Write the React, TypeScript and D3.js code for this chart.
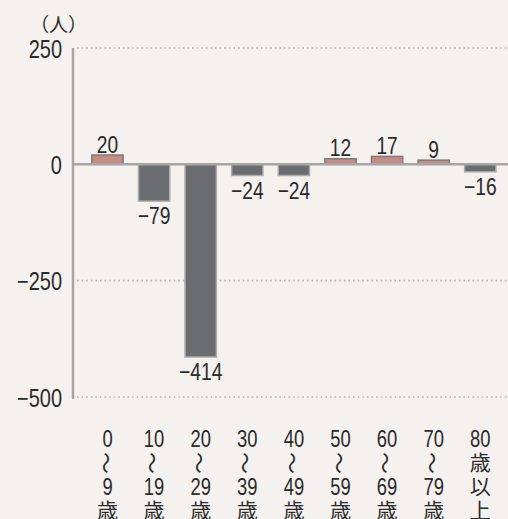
import React from "react";
import * as d3 from "d3";

const categories = ["0-9", "10-19", "20-29", "30-39", "40-49", "50-59", "60-69", "70-79", "80+"];
const values = [20, -79, -414, -24, -24, 12, 17, 9, -16];
const categoryLines: string[][] = [
  ["0", "〜", "9", "歳"],
  ["10", "〜", "19", "歳"],
  ["20", "〜", "29", "歳"],
  ["30", "〜", "39", "歳"],
  ["40", "〜", "49", "歳"],
  ["50", "〜", "59", "歳"],
  ["60", "〜", "69", "歳"],
  ["70", "〜", "79", "歳"],
  ["80", "歳", "以", "上"],
];
const yTicks = [250, 0, -250, -500];
const unitLabel = "（人）";

const W = 508;
const H = 519;
const NUM_FONT = "'Liberation Sans', Arial, sans-serif";
const CJK_FONT = "'Noto Sans CJK JP', sans-serif";
const TEXT = "#2b2b2b";
const SQUEEZE = 0.8;

function Num({
  x,
  y,
  size,
  anchor,
  children,
}: {
  x: number;
  y: number;
  size: number;
  anchor: "start" | "middle" | "end";
  children: React.ReactNode;
}) {
  return (
    <text
      transform={`translate(${x},${y}) scale(${SQUEEZE},1)`}
      textAnchor={anchor}
      fontFamily={NUM_FONT}
      fontSize={size}
      fill={TEXT}
    >
      {children}
    </text>
  );
}

export default function App() {
  const x = d3
    .scaleBand<string>()
    .domain(categories)
    .range([84.2, 503.6])
    .paddingInner(0.33)
    .paddingOuter(0.165);
  const y = d3.scaleLinear().domain([-500, 250]).range([397, 48]);
  const axisX = 73;

  return (
    <div style={{ position: "fixed", left: 0, top: 0, width: W, height: H }}>
      <svg width={W} height={H} style={{ display: "block" }}>
        <rect x={0} y={0} width={W} height={H} fill="#f5f1ee" />
        {yTicks
          .filter((t) => t !== 0)
          .map((t) => (
            <line
              key={"g" + t}
              x1={axisX + 4}
              x2={W}
              y1={y(t)}
              y2={y(t)}
              stroke="#b5b3b2"
              strokeWidth={1.6}
              strokeDasharray="1.6 3"
            />
          ))}
        {values.map((v, i) => {
          const c = categories[i];
          const y0 = y(0);
          const yv = y(v);
          const top = Math.min(y0, yv);
          const h = Math.abs(yv - y0);
          const pos = v >= 0;
          return (
            <rect
              key={c}
              x={x(c)!}
              y={top}
              width={x.bandwidth()}
              height={h}
              fill={pos ? "#c68c83" : "#6b6c70"}
              stroke={pos ? "#7b7b7b" : "#a9a9a9"}
              strokeWidth={1.5}
            />
          );
        })}
        <line x1={axisX} x2={W} y1={y(0)} y2={y(0)} stroke="#a6a6a6" strokeWidth={2.5} />
        <line x1={axisX} x2={axisX} y1={y(250)} y2={y(-500) + 2} stroke="#a6a6a6" strokeWidth={2.5} />
        {yTicks.map((t) => (
          <Num key={"t" + t} x={62} y={y(t) + 9.5} size={25} anchor="end">
            {t < 0 ? "−" + Math.abs(t) : String(t)}
          </Num>
        ))}
        <text x={30} y={32} fontFamily={CJK_FONT} fontSize={19} fill={TEXT}>
          {unitLabel}
        </text>
        {values.map((v, i) => {
          const c = categories[i];
          const cx = x(c)! + x.bandwidth() / 2;
          const ly = v >= 0 ? y(v) - 2.5 : y(v) + 23;
          return (
            <Num key={"v" + c} x={cx} y={ly} size={24} anchor="middle">
              {v < 0 ? "−" + Math.abs(v) : String(v)}
            </Num>
          );
        })}
        {categoryLines.map((lines, i) => {
          const c = categories[i];
          const cx = x(c)! + x.bandwidth() / 2;
          return (
            <g key={"c" + c}>
              {lines.map((s, j) => {
                const by = 447 + j * 24;
                if (s === "〜") {
                  return (
                    <text
                      key={j}
                      x={0}
                      y={0}
                      transform={`translate(${cx},${by - 8}) rotate(90)`}
                      textAnchor="middle"
                      dominantBaseline="central"
                      fontFamily={CJK_FONT}
                      fontSize={22}
                      fill={TEXT}
                    >
                      {s}
                    </text>
                  );
                }
                const isCJK = /[\u3000-\u9fff]/.test(s);
                if (isCJK) {
                  return (
                    <text
                      key={j}
                      x={cx}
                      y={by - 1}
                      textAnchor="middle"
                      fontFamily={CJK_FONT}
                      fontSize={21}
                      fill={TEXT}
                    >
                      {s}
                    </text>
                  );
                }
                return (
                  <Num key={j} x={cx} y={by} size={23} anchor="middle">
                    {s}
                  </Num>
                );
              })}
            </g>
          );
        })}
      </svg>
    </div>
  );
}
